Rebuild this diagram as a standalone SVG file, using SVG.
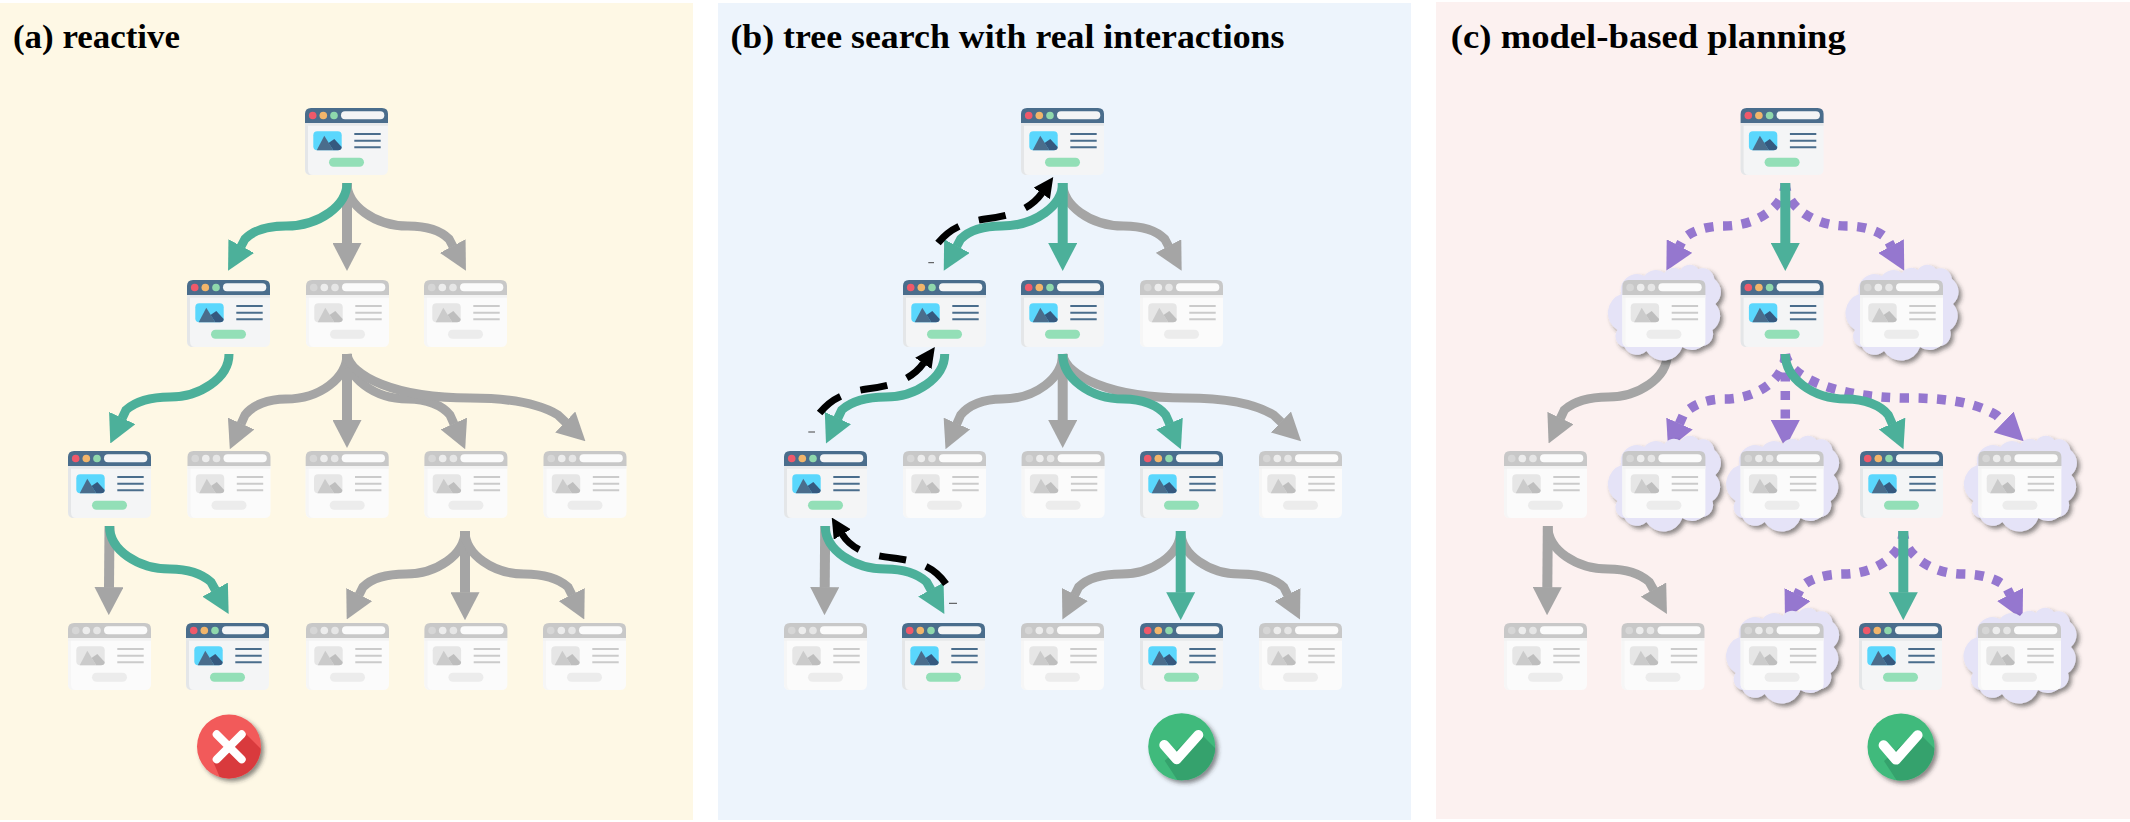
<svg xmlns="http://www.w3.org/2000/svg" width="2130" height="822" viewBox="0 0 2130 822">
<style>
.title{font-family:"Liberation Serif","Noto Sans CJK SC",serif;font-weight:bold;font-size:33px;fill:#000}
.c use,.c path{fill:none}
.g{stroke:#a5a5a5;stroke-width:9;marker-end:url(#mg)}
.t{stroke:#4cb09a;stroke-width:9;marker-end:url(#mt)}
.p{stroke:#9577cf;stroke-width:9.5;stroke-dasharray:9 9.5;marker-end:url(#mp)}
.k{stroke:#000;stroke-width:7;stroke-dasharray:27 21;marker-end:url(#mk)}
.s{stroke-width:10}
.tick{stroke:#444;stroke-width:1}
</style>
<defs>
<marker id="mg" viewBox="0 0 28 29" refX="0.5" refY="14.5" markerWidth="28" markerHeight="29" orient="auto" markerUnits="userSpaceOnUse"><path d="M0 0L28 14.5L0 29z" fill="#a5a5a5"/></marker>
<marker id="mt" viewBox="0 0 28 29" refX="0.5" refY="14.5" markerWidth="28" markerHeight="29" orient="auto" markerUnits="userSpaceOnUse"><path d="M0 0L28 14.5L0 29z" fill="#4cb09a"/></marker>
<marker id="mp" viewBox="0 0 28 29" refX="0.5" refY="14.5" markerWidth="28" markerHeight="29" orient="auto" markerUnits="userSpaceOnUse"><path d="M0 0L28 14.5L0 29z" fill="#9577cf"/></marker>
<marker id="mk" viewBox="0 0 20 20" refX="0.5" refY="10" markerWidth="20" markerHeight="20" orient="auto" markerUnits="userSpaceOnUse"><path d="M0 0L20 10L0 20z" fill="#000"/></marker>
<filter id="sh" x="-20%" y="-20%" width="150%" height="150%"><feDropShadow dx="3" dy="3" stdDeviation="2" flood-color="#333" flood-opacity=".55"/></filter>
<path id="r0L" d="M347 183C347 205 320 226 286 226C268 226 253 231 245 239L241 246.5"/>
<path id="r0M" d="M347 183L347 243.5"/>
<path id="r0R" d="M347 183C347 205 374 226 408 226C426 226 441 231 449 239L453 246.5"/>
<path id="r1A" d="M229 354C229 378 200 397 170 397C150 397 135 402 126 410L122 418.5"/>
<path id="r1L" d="M347 354C347 378 320 399 286 399C268 399 253 405 245 415L241 424"/>
<path id="r1M" d="M347 354L347 420.5"/>
<path id="r1R" d="M347 354C347 378 374 399 408 399C426 399 442 405 450 415L454 424"/>
<path id="r1F" d="M347 354C350 376 395 398 470 398C510 398 538 403 558 415L565.6 422.3"/>
<path id="r2S" d="M109.5 526L109 587.7"/>
<path id="r2C" d="M109.5 526C109.5 550 138 569 170 569C188 569 202 574 211 582L215.4 590"/>
<path id="r3L" d="M465 531C465 555 436 574 406 574C386 574 371 579 363 587L359 595"/>
<path id="r3M" d="M465 531L465 592.7"/>
<path id="r3R" d="M465 531C465 555 494 574 524 574C544 574 559 579 568 587L572 595"/>
<path id="ret" d="M938 243C950 228 965 222 985 219C1010 216 1030 210 1042 193"/>
<g id="on">
<path d="M0 15H83V61Q83 67 77 67H6Q0 67 0 61z" fill="#f4f5f6"/>
<path d="M0 15V61Q0 67 6 67H8Q3 67 3 61V15z" fill="#e4e6e8"/>
<rect y="15" width="83" height="2.7" fill="#e6e8ea"/>
<path d="M0 15V6Q0 0 6 0H77Q83 0 83 6V15z" fill="#4a6d8c"/>
<circle cx="7.7" cy="7.5" r="3.8" fill="#f0596a"/><circle cx="18.3" cy="7.5" r="3.8" fill="#f2b56b"/><circle cx="29" cy="7.5" r="3.8" fill="#8fd8ac"/>
<rect x="36" y="3.3" width="43.3" height="8" rx="4" fill="#f4f5f6"/>
<rect x="8.3" y="23.3" width="28.4" height="19" rx="4" fill="#5ad7fd"/>
<path d="M29.3 31L36.7 39Q36.7 42.3 33 42.3H28.3L23.5 35z" fill="#35597f"/>
<path d="M19.3 27.7L28.3 42.3H11.7z" fill="#4a6d8c"/>
<path d="M49.3 26H75.7M49.3 32.7H75.7M49.3 39.3H75.7" stroke="#4a6d8c" stroke-width="2" fill="none"/>
<rect x="24" y="49.7" width="35" height="9" rx="4.5" fill="#93dfb7"/>
</g>
<g id="off">
<path d="M0 15H83V61Q83 67 77 67H6Q0 67 0 61z" fill="#fbfbfb"/>
<path d="M0 15V61Q0 67 6 67H8Q3 67 3 61V15z" fill="#f6f6f6"/>
<rect y="15" width="83" height="2.7" fill="#f3f3f3"/>
<path d="M0 15V6Q0 0 6 0H77Q83 0 83 6V15z" fill="#c8c8c8"/>
<circle cx="7.7" cy="7.5" r="3.8" fill="#d6d6d6"/><circle cx="18.3" cy="7.5" r="3.8" fill="#ededed"/><circle cx="29" cy="7.5" r="3.8" fill="#e6e6e6"/>
<rect x="36" y="3.3" width="43.3" height="8" rx="4" fill="#fbfbfb"/>
<rect x="8.3" y="23.3" width="28.4" height="19" rx="4" fill="#e6e6e6"/>
<path d="M29.3 31L36.7 39Q36.7 42.3 33 42.3H28.3L23.5 35z" fill="#bebebe"/>
<path d="M19.3 27.7L28.3 42.3H11.7z" fill="#cbcbcb"/>
<path d="M49.3 26H75.7M49.3 32.7H75.7M49.3 39.3H75.7" stroke="#cbcbcb" stroke-width="2" fill="none"/>
<rect x="24" y="49.7" width="35" height="9" rx="4.5" fill="#ececec"/>
</g>
<path id="cloud" filter="url(#sh)" fill="#e5e3f7" d="M-1 14A16 16 0 0 1 22 -4A14 14 0 0 1 42 -7A11 11 0 0 1 58 -10A11 11 0 0 1 76 -11A12 12 0 0 1 92 -1A16 16 0 0 1 93 24A17 17 0 0 1 90 50A12 12 0 0 1 80 66A16 16 0 0 1 60 67A20 20 0 0 1 24 71A14 14 0 0 1 2 67A11 11 0 0 1 -5 50A20 20 0 0 1 -1 14z"/>
<g id="cn"><use href="#cloud"/><use href="#off"/></g>
<clipPath id="cr"><circle cx="229" cy="746.5" r="32"/></clipPath>
<clipPath id="cg"><circle cx="0" cy="0" r="33.5"/></clipPath>
<g id="okmark">
<circle r="33.5" fill="#3fba7c" filter="url(#sh)"/>
<path clip-path="url(#cg)" d="M16 -16L45 13V40H0L-17 14z" fill="#35a26d"/>
<path d="M-17.4 -1.7L-5 12.6L16.6 -11.7" fill="none" stroke="#fff" stroke-width="10" stroke-linecap="round" stroke-linejoin="round"/>
</g>
</defs>
<rect width="2130" height="822" fill="#fff"/>
<g id="panel-a"><rect x="0" y="3" width="693" height="817" fill="#fef8e5"/><text class="title" x="13" y="47.7" textLength="167" lengthAdjust="spacingAndGlyphs">(a) reactive</text></g>
<g id="panel-b"><rect x="718" y="3" width="693" height="817" fill="#edf4fc"/><text class="title" x="730.4" y="47.7" textLength="554" lengthAdjust="spacingAndGlyphs">(b) tree search with real interactions</text></g>
<g id="panel-c"><rect x="1436" y="2" width="694" height="817" fill="#fcf1f0"/><text class="title" x="1450.8" y="47.7" textLength="395" lengthAdjust="spacingAndGlyphs">(c) model-based planning</text></g>

<g id="connectors" class="c" fill="none">
<g id="conn-a">
<use href="#r0M" class="g s"/><use href="#r0R" class="g"/><use href="#r0L" class="t"/>
<use href="#r1L" class="g"/><use href="#r1M" class="g s"/><use href="#r1R" class="g"/><use href="#r1F" class="g"/><use href="#r1A" class="t"/>
<use href="#r2S" class="g s"/><use href="#r2C" class="t"/>
<use href="#r3L" class="g"/><use href="#r3M" class="g s"/><use href="#r3R" class="g"/>
</g>
<g id="conn-b" transform="translate(715.7 0)">
<use href="#r0R" class="g"/><use href="#r0M" class="t s"/><use href="#r0L" class="t"/>
<use href="#r1L" class="g"/><use href="#r1M" class="g s"/><use href="#r1F" class="g"/><use href="#r1R" class="t"/><use href="#r1A" class="t"/>
<use href="#r2S" class="g s"/><use href="#r2C" class="t"/>
<use href="#r3L" class="g"/><use href="#r3R" class="g"/><use href="#r3M" class="t s"/>
</g>
<g id="conn-b-return">
<use href="#ret" class="k"/>
<use href="#ret" class="k" transform="translate(-118.4 170)"/>
<path class="k" d="M946 584C935 568 920 562 900 559C880 556 855 555 842 534"/>
<path class="tick" d="M928.3 262.7H934M808.3 432H815M949 603.3H957"/>
</g>
<g id="conn-c" transform="translate(1438.3 0)">
<use href="#r0L" class="p"/><use href="#r0R" class="p"/><use href="#r0M" class="t s"/>
<use href="#r1A" class="g"/>
<use href="#r1L" class="p"/><use href="#r1M" class="p"/><use href="#r1F" class="p"/><use href="#r1R" class="t"/>
<use href="#r2S" class="g s"/><use href="#r2C" class="g"/>
<use href="#r3L" class="p"/><use href="#r3R" class="p"/><use href="#r3M" class="t s"/>
</g>
</g>

<g id="a-n0" transform="translate(305 108)"><use href="#on"/></g>
<g id="a-n1" transform="translate(187 280)"><use href="#on"/></g>
<g id="a-n2" transform="translate(306 280)"><use href="#off"/></g>
<g id="a-n3" transform="translate(424 280)"><use href="#off"/></g>
<g id="a-n4" transform="translate(68 451)"><use href="#on"/></g>
<g id="a-n5" transform="translate(187.5 451)"><use href="#off"/></g>
<g id="a-n6" transform="translate(305.7 451)"><use href="#off"/></g>
<g id="a-n7" transform="translate(424.4 451)"><use href="#off"/></g>
<g id="a-n8" transform="translate(543.5 451)"><use href="#off"/></g>
<g id="a-n9" transform="translate(68 623)"><use href="#off"/></g>
<g id="a-n10" transform="translate(186 623)"><use href="#on"/></g>
<g id="a-n11" transform="translate(306 623)"><use href="#off"/></g>
<g id="a-n12" transform="translate(424.4 623)"><use href="#off"/></g>
<g id="a-n13" transform="translate(543 623)"><use href="#off"/></g>

<g id="b-n0" transform="translate(1021 108)"><use href="#on"/></g>
<g id="b-n1" transform="translate(903 280)"><use href="#on"/></g>
<g id="b-n2" transform="translate(1021 280)"><use href="#on"/></g>
<g id="b-n3" transform="translate(1140 280)"><use href="#off"/></g>
<g id="b-n4" transform="translate(784 451)"><use href="#on"/></g>
<g id="b-n5" transform="translate(903 451)"><use href="#off"/></g>
<g id="b-n6" transform="translate(1021.6 451)"><use href="#off"/></g>
<g id="b-n7" transform="translate(1140 451)"><use href="#on"/></g>
<g id="b-n8" transform="translate(1259 451)"><use href="#off"/></g>
<g id="b-n9" transform="translate(784 623)"><use href="#off"/></g>
<g id="b-n10" transform="translate(902 623)"><use href="#on"/></g>
<g id="b-n11" transform="translate(1021 623)"><use href="#off"/></g>
<g id="b-n12" transform="translate(1140 623)"><use href="#on"/></g>
<g id="b-n13" transform="translate(1259 623)"><use href="#off"/></g>

<g id="c-n0" transform="translate(1740.6 108)"><use href="#on"/></g>
<g id="c-n1" transform="translate(1622.4 280)"><use href="#cn"/></g>
<g id="c-n2" transform="translate(1740.6 280)"><use href="#on"/></g>
<g id="c-n3" transform="translate(1860 280)"><use href="#cn"/></g>
<g id="c-n4" transform="translate(1504 451)"><use href="#off"/></g>
<g id="c-n5" transform="translate(1622.4 451)"><use href="#cn"/></g>
<g id="c-n6" transform="translate(1740.6 451)"><use href="#cn"/></g>
<g id="c-n7" transform="translate(1860 451)"><use href="#on"/></g>
<g id="c-n8" transform="translate(1978.4 451)"><use href="#cn"/></g>
<g id="c-n9" transform="translate(1504 623)"><use href="#off"/></g>
<g id="c-n10" transform="translate(1621.5 623)"><use href="#off"/></g>
<g id="c-n11" transform="translate(1740.6 623)"><use href="#cn"/></g>
<g id="c-n12" transform="translate(1859 623)"><use href="#on"/></g>
<g id="c-n13" transform="translate(1978 623)"><use href="#cn"/></g>

<g id="status-a">
<circle cx="229" cy="746.5" r="32" fill="#f25a5a" filter="url(#sh)"/>
<path clip-path="url(#cr)" d="M243 731L275 763V790H225L213 761z" fill="#d93a3d"/>
<path d="M216.7 734.3L241.7 759.3M241.7 734.3L216.7 759.3" fill="none" stroke="#fff" stroke-width="8" stroke-linecap="round"/>
</g>
<g id="status-b" transform="translate(1181.7 746.7)"><use href="#okmark"/></g>
<g id="status-c" transform="translate(1901 747)"><use href="#okmark"/></g>
</svg>
